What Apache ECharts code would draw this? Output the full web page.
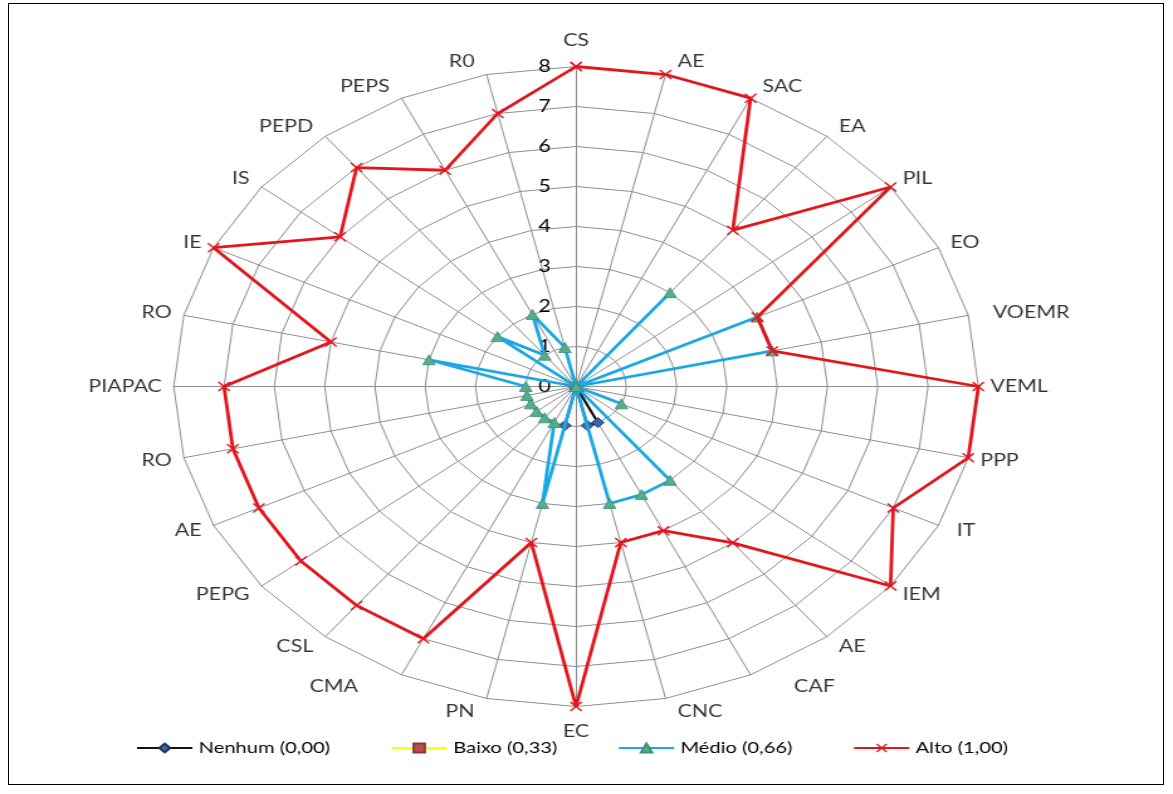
<!DOCTYPE html>
<html>
<head>
<meta charset="utf-8">
<script src="https://cdn.jsdelivr.net/npm/echarts@6/dist/echarts.min.js"></script>
<style>
  html, body { margin: 0; padding: 0; background: #ffffff; }
  #frame { position: absolute; left: 8px; top: 3px; width: 1156px; height: 782px; border: 1px solid #000; box-sizing: border-box; }
  /* the radar is drawn in a narrower canvas and widened horizontally */
  #chart { position: absolute; left: 0; top: 0; width: 933px; height: 794px; transform: scaleX(1.2572); transform-origin: 0 0; }
</style>
</head>
<body>
<div id="frame"></div>
<div id="chart"></div>
<script>
// Criteria, clockwise from the top
const categories = ['CS', 'AE', 'SAC', 'EA', 'PIL', 'EO', 'VOEMR', 'VEML', 'PPP', 'IT', 'IEM', 'AE', 'CAF', 'CNC',
  'EC', 'PN', 'CMA', 'CSL', 'PEPG', 'AE', 'RO', 'PIAPAC', 'RO', 'IE', 'IS', 'PEPD', 'PEPS', 'R0'];

// Number of answers per level for each criterion
const nenhum = [0, 0, 0, 0, 0, 0, 0, 0, 0, 0, 0, 0, 1, 1, 0, 1, 0, 0, 0, 0, 0, 0, 0, 0, 0, 0, 0, 0];
const baixo  = [0, 0, 0, 0, 0, 0, 0, 0, 0, 0, 0, 0, 0, 0, 0, 0, 0, 0, 0, 0, 0, 0, 0, 0, 0, 0, 0, 0];
const medio  = [0, 0, 0, 3, 0, 4, 4, 0, 0, 1, 0, 3, 3, 3, 0, 3, 1, 1, 1, 1, 1, 1, 3, 0, 2, 1, 2, 1];
const alto   = [8, 8, 8, 5, 8, 4, 4, 8, 8, 7, 8, 5, 4, 4, 8, 4, 7, 7, 7, 7, 7, 7, 5, 8, 6, 7, 6, 7];

const seriesNames = ['Nenhum (0,00)', 'Baixo (0,33)', 'Médio (0,66)', 'Alto (1,00)'];
const tickLabels = ['0', '1', '2', '3', '4', '5', '6', '7', '8'];
const maxValue = 8;

const FONT = 'Lato, "Open Sans", sans-serif';
const TEXT = '#000000';
const GRID = '#8e8e8e';
const CX = 458.2, CY = 386.5, R = 320;

// extra sideways push for a few crowded criterion names (canvas px)
const labelNudgeX = { 6: 10, 9: 5, 12: 25, 16: -25 };

function angleOf(i, n) { return 2 * Math.PI * i / n; }

// value -> x/y on the value axes, clockwise from the top, ring closed
function toXY(values) {
  const n = values.length;
  const pts = values.map(function (v, i) {
    const a = angleOf(i, n);
    return [v * Math.sin(a), v * Math.cos(a)];
  });
  pts.push(pts[0]);
  return pts;
}

// criterion names sit just outside the outer ring
function nameItems() {
  const n = categories.length;
  return categories.map(function (name, i) {
    const a = angleOf(i, n), s = Math.sin(a), c = Math.cos(a);
    let align, offset;
    if (Math.abs(s) < 0.05) {
      align = 'center';
      offset = [0, c > 0 ? -26 : 25];
    } else {
      align = s > 0 ? 'left' : 'right';
      offset = [(s > 0 ? 9.5 : -9.5) + (labelNudgeX[i] || 0), -c * 13];
    }
    return {
      name: name,
      value: [maxValue * s, maxValue * c],
      label: { align: align, verticalAlign: 'middle', offset: offset }
    };
  });
}

const xMark = 'path://M1,0 L5,4 L9,0 L10,1 L6,5 L10,9 L9,10 L5,6 L1,10 L0,9 L4,5 L0,1 Z';

const styles = [
  { line: '#111111', width: 2.2, symbol: 'diamond', size: 10, fill: '#3f62a3', border: '#1f3357' },
  { line: '#ffff00', width: 2.2, symbol: 'rect', size: 8, fill: '#c0504d', border: '#8c3836' },
  { line: '#1ba8e2', width: 2.8, symbol: 'triangle', size: 10, fill: '#55ad8c', border: '#3f8f72' },
  { line: '#e3161e', width: 2.8, symbol: xMark, size: 10, fill: '#e3161e', border: '#e3161e' }
];
const dataSets = [nenhum, baixo, medio, alto];

const chart = echarts.init(document.getElementById('chart'), null, { renderer: 'canvas', width: 933, height: 794 });

const lineSeries = dataSets.map(function (vals, k) {
  const s = styles[k];
  return {
    name: seriesNames[k],
    type: 'line',
    xAxisIndex: 0, yAxisIndex: 0,
    data: toXY(vals),
    symbol: s.symbol,
    symbolSize: s.size,
    showSymbol: true,
    lineStyle: { color: s.line, width: s.width },
    itemStyle: { color: s.fill, borderColor: s.border, borderWidth: k === 3 ? 0 : 0.8 },
    emphasis: { disabled: true },
    z: 3 + k
  };
});

const option = {
  backgroundColor: 'transparent',
  animation: false,
  textStyle: { fontFamily: FONT },
  radar: {
    center: [CX, CY],
    radius: R,
    startAngle: 90,
    splitNumber: 8,
    shape: 'polygon',
    indicator: categories.map(function (n) { return { name: n, min: 0, max: maxValue }; }),
    axisName: { show: false },
    splitLine: { lineStyle: { color: GRID, width: 1 } },
    splitArea: { show: false },
    axisLine: { lineStyle: { color: GRID, width: 1 } },
    axisTick: { show: false },
    axisLabel: { show: false }
  },
  grid: [
    { left: CX - R, top: CY - R, width: 2 * R, height: 2 * R },
    { left: CX, top: CY - R, width: 1, height: R }
  ],
  xAxis: [
    { gridIndex: 0, type: 'value', min: -maxValue, max: maxValue, show: false },
    { gridIndex: 1, type: 'value', min: 0, max: 1, show: false }
  ],
  yAxis: [
    { gridIndex: 0, type: 'value', min: -maxValue, max: maxValue, show: false },
    {
      gridIndex: 1, type: 'value', min: 0, max: maxValue, interval: 1,
      axisLine: { show: false }, axisTick: { show: false }, splitLine: { show: false },
      axisLabel: { margin: 20, fontSize: 17, color: TEXT, fontFamily: FONT,
        formatter: function (v) { return tickLabels[v]; } }
    }
  ],
  legend: {
    left: 103, top: 735,
    itemWidth: 44, itemHeight: 11, itemGap: 48,
    textStyle: { fontSize: 16, color: TEXT, fontFamily: FONT },
    data: seriesNames
  },
  series: lineSeries.concat([{
    type: 'scatter',
    xAxisIndex: 0, yAxisIndex: 0,
    data: nameItems(),
    symbolSize: 1,
    itemStyle: { color: 'rgba(0,0,0,0)' },
    silent: true,
    z: 10,
    label: {
      show: true, position: 'inside', formatter: '{b}',
      fontSize: 17, color: TEXT, fontFamily: FONT
    }
  }])
};

chart.setOption(option);
</script>
</body>
</html>
